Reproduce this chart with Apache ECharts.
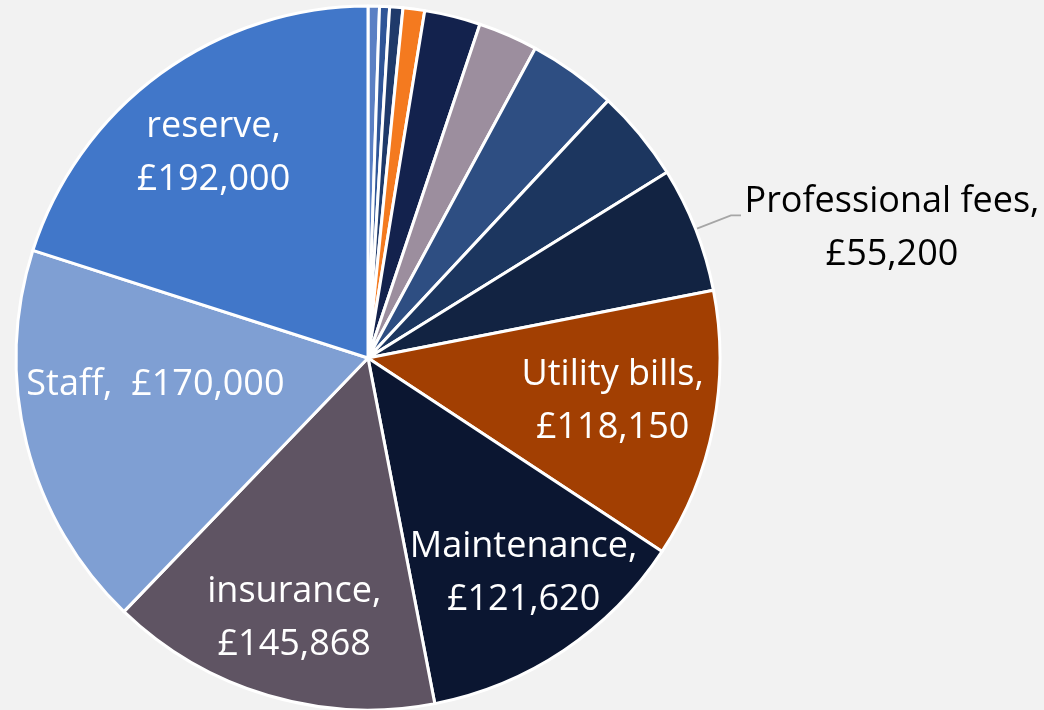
<!DOCTYPE html>
<html>
<head>
<meta charset="utf-8">
<script src="https://cdn.jsdelivr.net/npm/echarts@6/dist/echarts.min.js"></script>
<style>html,body{margin:0;padding:0;background:#f2f2f2;}#c{width:1044px;height:710px;}</style>
</head>
<body>
<div id="c"></div>
<script>
// Data (clockwise from 12 o'clock)
const categories = ['Bank charges', 'Licences', 'Sundries', 'Cleaning', 'Security', 'Gardening', 'IT & telecoms', 'Marketing', 'Professional fees', 'Utility bills', 'Maintenance', 'insurance', 'Staff', 'reserve'];
const values = [5000, 4400, 5800, 9500, 24600, 26200, 38900, 40300, 55200, 118150, 121620, 145868, 170000, 192000];
const labelText = ['', '', '', '', '', '', '', '', 'Professional fees,\n£55,200', 'Utility bills,\n£118,150', 'Maintenance,\n£121,620', 'insurance,\n£145,868', 'Staff,  £170,000', 'reserve,\n£192,000'];

// Styles
const colors = ['#5b80c4', '#2f5597', '#1f3a6a', '#f47a1f', '#13224d', '#9c8e9e', '#2e4e82', '#1c365f', '#122342', '#a23f02', '#0b1631', '#5f5463', '#7f9fd3', '#4177c9'];
const labelOffsets = {8: [0, 0], 9: [69, 9], 10: [56, 67], 11: [-23, 89], 12: [-39, -17], 13: [-49, -60]};
const FONT = 'Open Sans';
const FS = 36;

const data = categories.map((name, i) => {
  const item = { name, value: values[i], itemStyle: { color: colors[i] } };
  if (!labelText[i]) {
    item.label = { show: false };
    item.labelLine = { show: false };
  } else if (i === 8) {
    const parts = labelText[i].split('\n');
    item.label = {
      show: true, position: 'outside', color: '#000',
      formatter: () => parts.map(p => '{a|' + p + '}').join('\n'),
      padding: [26, 0, 0, 0],
      rich: { a: { fontFamily: FONT, fontSize: FS, lineHeight: 53, width: 292, align: 'center', color: '#000' } }
    };
    item.labelLine = { show: true, length: 38, length2: 10, lineStyle: { color: '#a6a6a6', width: 1.8 } };
  } else {
    item.label = {
      show: true, position: 'inside', color: '#fff',
      formatter: () => labelText[i],
      offset: labelOffsets[i]
    };
    item.labelLine = { show: false };
  }
  return item;
});

const chart = echarts.init(document.getElementById('c'));
chart.setOption({
  backgroundColor: '#f2f2f2',
  animation: false,
  series: [{
    type: 'pie',
    center: [368, 358],
    radius: [0, 352],
    startAngle: 90,
    clockwise: true,
    avoidLabelOverlap: false,
    itemStyle: { borderColor: '#ffffff', borderWidth: 3 },
    label: { fontFamily: FONT, fontSize: FS, lineHeight: 53, align: 'center' },
    data
  }]
});
</script>
</body>
</html>
